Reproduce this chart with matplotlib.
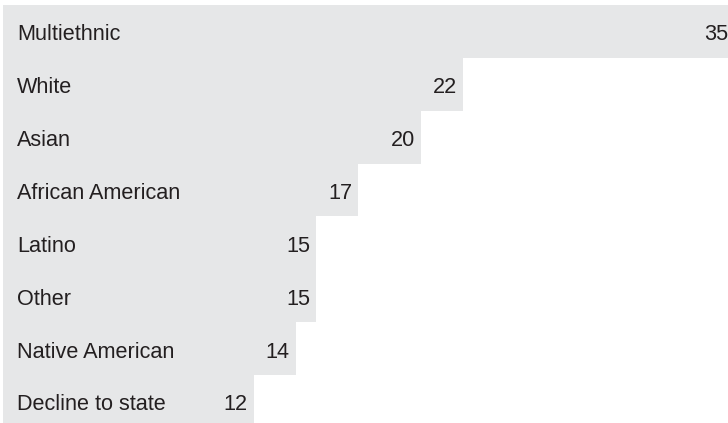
import matplotlib.pyplot as plt

# share of respondents by group
groups = ["Multiethnic", "White", "Asian", "African American",
          "Latino", "Other", "Native American", "Decline to state"]
values = [35, 22, 20, 17, 15, 15, 14, 12]

plt.rcParams["font.family"] = ["Liberation Sans", "DejaVu Sans"]

W, H = 728, 423
fig = plt.figure(figsize=(W / 100, H / 100), dpi=100)

# axes box in pixels: bars start 3px from the left, 5px from the top
left, top = 3, 5
ax = fig.add_axes([left / W, 0, (W - left) / W, (H - top) / H])

px_per_unit = 20.9
row_px = 52.86
ax.set_xlim(0, (W - left) / px_per_unit)
ax.set_ylim(-0.5 + (H - top) / row_px, -0.5)

ax.barh(range(len(groups)), values, height=1.0, color="#e6e7e8", linewidth=0)

txt = "#231f20"
for i, (g, v) in enumerate(zip(groups, values)):
    ax.annotate(g, xy=(0, i + 0.17), xytext=(14 * 0.72, 0),
                textcoords="offset points", ha="left", va="baseline",
                fontsize=15.6, color=txt, annotation_clip=False)
    ax.annotate(str(v), xy=(v, i + 0.17), xytext=(-6 * 0.72, 0),
                textcoords="offset points", ha="right", va="baseline",
                fontsize=15.6, color=txt, annotation_clip=False)

ax.axis("off")
fig.savefig("out.png", dpi=100)
